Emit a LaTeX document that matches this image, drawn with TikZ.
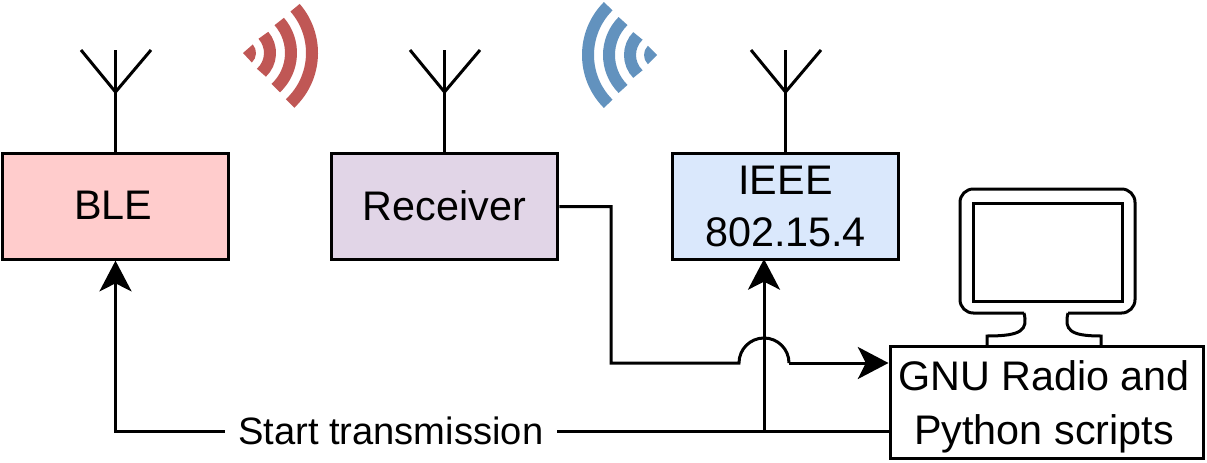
\documentclass[tikz,border=0pt]{standalone}
\usepackage{fontspec}
\setmainfont{Liberation Sans}
\usetikzlibrary{arrows.meta,positioning,calc}
\definecolor{rougeble}{HTML}{FFCCCC}
\definecolor{violetrec}{HTML}{E1D5E7}
\definecolor{bleuieee}{HTML}{DAE8FC}
\definecolor{rougeonde}{HTML}{C05755}
\definecolor{bleuonde}{HTML}{6292BE}
\begin{document}
\begin{tikzpicture}[x=0.75pt,y=0.75pt]
\tikzstyle{trait}=[line width=2.25pt,black]
\tikzstyle{fleche}=[trait,-{Stealth[length=23pt,width=24pt,inset=6pt]}]
\tikzstyle{boite}=[draw,line width=2.25pt,minimum width=170pt,minimum height=79pt,inner sep=0pt,align=center,font=\fontsize{31}{39}\selectfont]
\tikzstyle{onde}=[line width=9pt]
\useasboundingbox (0,0) rectangle (1207,462);
% boites
\node[boite,fill=rougeble] (BLE) at (115.5,255.5) {\raisebox{1.5pt}{BLE}\kern3.5pt};
\node[boite,fill=violetrec] (Rec) at (444.5,255.5) {\raisebox{1.5pt}{Receiver}};
\node[boite,fill=bleuieee] (IEEE) at (785.5,255.5) {IEEE\\802.15.4};
\node[boite,minimum width=234.75pt,minimum height=84pt] (GNU) at (1046.5,60) {\rule{0pt}{29pt}GNU Radio and\kern3.75pt\\[1.5pt]Python scripts\kern3.75pt};
% antennes
\coordinate (BLEj) at (115.5,370);
\coordinate (BLEh) at (115.5,412);
\coordinate (BLEg) at (81,412);
\coordinate (BLEd) at (151,412);
\draw[trait] (BLE.north) -- (BLEh);
\draw[trait] (BLEg) -- (BLEj) -- (BLEd);
\coordinate (Recj) at (444.5,370);
\coordinate (Rech) at (444.5,412);
\coordinate (Recg) at (410,412);
\coordinate (Recd) at (480,412);
\draw[trait] (Rec.north) -- (Rech);
\draw[trait] (Recg) -- (Recj) -- (Recd);
\coordinate (IEEEj) at (785.5,370);
\coordinate (IEEEh) at (785.5,412);
\coordinate (IEEEg) at (751,412);
\coordinate (IEEEd) at (821,412);
\draw[trait] (IEEE.north) -- (IEEEh);
\draw[trait] (IEEEg) -- (IEEEj) -- (IEEEd);
% ondes
\fill[rougeonde] (243,409) -- ++(41:13) arc (41:-47:13) -- cycle;
\foreach \r in {27,48,69}
  \draw[onde,rougeonde] ($(243,409)+(41:\r)$) arc (41:-47:\r);
\fill[bleuonde] (657,407) -- ++(135:13) arc (135:225:13) -- cycle;
\foreach \r in {27,48,69}
  \draw[onde,bleuonde] ($(657,407)+(135:\r)$) arc (135:225:\r);
% ecran
\draw[trait,rounded corners=10pt] (1024,149) -- (960,149) -- (960,273) -- (1135,273) -- (1135,149) -- (1068,149);
\draw[trait] (973,161) rectangle (1122,259);
\draw[trait] (1024,149) .. controls (1028,132) and (1022,126) .. (987,126) -- (987,116);
\draw[trait] (1068,149) .. controls (1064,132) and (1070,126) .. (1101,126) -- (1101,116);
% liaisons
\coordinate (GNUh) at (GNU.west |- 0,99);
\coordinate (GNUb) at (GNU.west |- 0,31);
\coordinate (Rx) at (611,255.5);
\coordinate (Ry) at (611,99);
\coordinate (Sa) at (739,99);
\coordinate (Sb) at (115.5,31);
\coordinate (Sc) at (764,31);
\coordinate (IEEEs) at (764,203);
\draw[trait] (Rec.east) -- (Rx) -- (Ry) -- (Sa) arc (180:0:25) coordinate (Sd);
\draw[fleche] (Sd) -- (GNUh);
\draw[fleche] (GNUb) -- node[fill=white,inner sep=0pt,minimum width=249pt,minimum height=30pt,pos=0.644,font=\fontsize{28.6}{34}\selectfont] (Start) {Start transmission} (Sb) -- (BLE.south);
\draw[fleche] (Sc) -- (IEEEs);
\end{tikzpicture}
\end{document}
